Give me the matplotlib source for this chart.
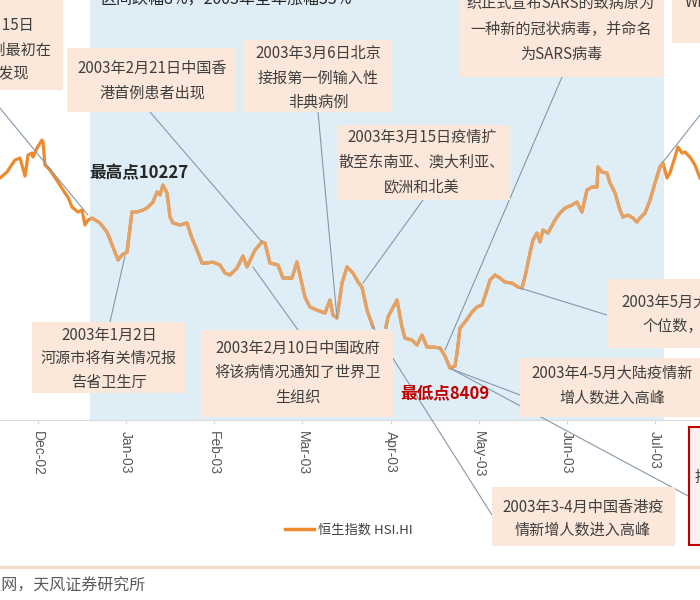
import numpy as np
import matplotlib
matplotlib.use("Agg")
import matplotlib.pyplot as plt
from matplotlib.patches import Rectangle
from matplotlib.lines import Line2D

plt.rcParams['font.family'] = ['Noto Sans CJK SC', 'DejaVu Sans']

# x = months since Dec-02 (the axis gives every month the same width)
month_pos = [-0.431, -0.352, -0.261, -0.204, -0.147, -0.113, -0.068, -0.057, -0.011, 0.045,
             0.057, 0.079, 0.136, 0.227, 0.306, 0.340, 0.386, 0.454, 0.499, 0.533,
             0.567, 0.613, 0.703, 0.783, 0.851, 0.908, 0.953, 1.010, 1.066, 1.123,
             1.191, 1.237, 1.305, 1.350, 1.384, 1.418, 1.464, 1.498, 1.532, 1.611,
             1.690, 1.747, 1.804, 1.861, 1.917, 1.985, 2.065, 2.122, 2.178, 2.258,
             2.326, 2.371, 2.462, 2.541, 2.575, 2.632, 2.723, 2.780, 2.882, 2.938,
             3.029, 3.086, 3.165, 3.256, 3.313, 3.347, 3.392, 3.449, 3.506, 3.574,
             3.631, 3.676, 3.733, 3.801, 3.880, 3.948, 3.971, 4.073, 4.130, 4.164,
             4.243, 4.300, 4.357, 4.413, 4.481, 4.561, 4.618, 4.674, 4.731, 4.754,
             4.788, 4.845, 4.924, 4.981, 5.037, 5.094, 5.128, 5.185, 5.242, 5.298,
             5.378, 5.446, 5.491, 5.525, 5.582, 5.616, 5.661, 5.696, 5.730, 5.786,
             5.866, 5.922, 5.979, 6.058, 6.115, 6.172, 6.229, 6.285, 6.342, 6.354,
             6.399, 6.456, 6.490, 6.547, 6.603, 6.637, 6.694, 6.751, 6.796, 6.830,
             6.887, 6.944, 7.000, 7.057, 7.091, 7.136, 7.170, 7.227, 7.261, 7.307,
             7.341, 7.397, 7.454, 7.511]
hsi = [10297, 10356, 10475, 10495, 10316, 10525, 10545, 10505, 10595, 10674,
       10654, 10426, 10376, 10257, 10148, 10108, 10008, 9959, 9979, 9830,
       9879, 9899, 9850, 9760, 9611, 9482, 9532, 9561, 9959, 9959,
       9979, 9998, 10058, 10158, 10128, 10227, 10148, 9909, 9850, 9830,
       9850, 9700, 9581, 9452, 9452, 9462, 9432, 9353, 9333, 9402,
       9522, 9413, 9581, 9661, 9651, 9452, 9432, 9303, 9303, 9462,
       9114, 9015, 8985, 8955, 9085, 8936, 8906, 9253, 9413, 9353,
       9263, 9214, 8985, 8816, np.nan, 8816, 8916, 9085, 8816, 8707,
       8687, 8638, 8737, 8618, 8618, 8608, 8528, 8409, 8429, 8558,
       8806, 8866, 8965, 9015, 9035, 9184, 9283, 9333, 9303, 9263,
       9253, 9214, 9204, 9313, 9551, 9681, 9750, 9661, 9780, 9750,
       9879, 9949, 9998, 10028, 10058, 9959, 10177, 10207, 10207, 10406,
       10356, 10346, 10247, 10148, 9979, 9909, 9929, 9899, 9859, 9899,
       9949, 10078, 10247, 10406, 10446, 10297, 10346, 10505, 10605, 10545,
       10555, 10505, 10426, 10297]

month_labels = ['Dec-02', 'Jan-03', 'Feb-03', 'Mar-03', 'Apr-03', 'May-03', 'Jun-03', 'Jul-03']
sars_start, sars_end = 0.59, 7.10
high_label = '最高点10227'
low_label = '最低点8409'

W, H = 700, 600
ORANGE = '#ee8a2e'
BOX = '#fce8da'
TXT = '#3f3f3f'
LEAD = '#8498ab'
FS = 10.9


def fx(x):
    return x / W


def fy(y):
    return 1 - y / H


fig = plt.figure(figsize=(7, 6), dpi=100)
ax = fig.add_axes([0, fy(420), 1, 420 / H])
ax.set_xlim(-0.431, 7.511)
ax.set_ylim(7893, 12065)

span = ax.axvspan(sars_start, sars_end, color='#dfeef6', lw=0, zorder=1)
ax.plot(month_pos, hsi, color=ORANGE, lw=2.3, zorder=2, solid_joinstyle='round')
muted, = ax.plot(month_pos, hsi, color='#e3a266', lw=2.3, zorder=2.5, solid_joinstyle='round')
muted.set_clip_path(span)

for s in ['top', 'left', 'right']:
    ax.spines[s].set_visible(False)
ax.spines['bottom'].set_color('#d9d9d9')
ax.set_yticks([])
ax.set_xticks(range(len(month_labels)))
ax.set_xticklabels(month_labels, rotation=-90, fontsize=10, color='#595959',
                   family='Liberation Sans')
ax.tick_params(axis='x', length=3, color='#d9d9d9', pad=5)

# leader lines: (start on box in pixels) -> (point on the curve in data units)
leaders = [
    ((-10, 96), (0.567, 9929)),
    ((150, 112), (2.541, 9661)),
    ((318, 112), (3.392, 8906)),
    ((423, 200), (3.687, 9253)),
    ((562, 77), (4.618, 8588)),
    ((110, 322), (0.987, 9522)),
    ((298, 330), (2.439, 9412)),
    ((520, 395), (4.69, 8400)),
    ((692, 498), (4.69, 8400)),
    ((492, 515), (3.789, 8836)),
    ((607, 315), (5.469, 9204)),
    ((715, 96), (7.091, 10456)),
]
for (px, py), (m, v) in leaders:
    ax.annotate('', xy=(m, v), xycoords='data', xytext=(px, H - py),
                textcoords='figure pixels', annotation_clip=False,
                arrowprops=dict(arrowstyle='-', color=LEAD, lw=0.8, shrinkA=0, shrinkB=0),
                zorder=4)

# annotation boxes: rect (x0, y0, x1, y1), centre x, [(y, text), ...]
boxes = [
    ((-20, -10, 63, 90), None, []),
    ((67, 48, 235, 112), 152, [(68, '2003年2月21日中国香'), (93, '港首例患者出现')]),
    ((243, 40, 392, 112), 318, [(53, '2003年3月6日北京'), (78, '接报第一例输入性'), (102, '非典病例')]),
    ((338, 125, 510, 200), 422, [(137, '2003年3月15日疫情扩'), (162, '散至东南亚、澳大利亚、'), (187, '欧洲和北美')]),
    ((460, -20, 663, 77), 561, [(-22, '2003年4月16日世界卫生组'), (3, '织正式宣布SARS的致病原为'),
                                (29, '一种新的冠状病毒，并命名'), (54, '为SARS病毒')]),
    ((32, 322, 185, 393), 109, [(335, '2003年1月2日'), (358, '河源市将有关情况报'), (382, '告省卫生厅')]),
    ((202, 330, 393, 417), 298, [(348, '2003年2月10日中国政府'), (372, '将该病情况通知了世界卫'), (397, '生组织')]),
    ((520, 358, 720, 417), 612, [(373, '2003年4-5月大陆疫情新'), (398, '增人数进入高峰')]),
    ((607, 279, 720, 348), 718, [(302, '2003年5月大陆新增病例降至'), (326, '个位数，疫情得到控制')]),
    ((492, 487, 675, 546), 583, [(507, '2003年3-4月中国香港疫'), (530, '情新增人数进入高峰')]),
    ((672, -10, 720, 43), None, []),
]
for (x0, y0, x1, y1), cx, lines in boxes:
    fig.add_artist(Rectangle((fx(x0), fy(y1)), (x1 - x0) / W, (y1 - y0) / H,
                             transform=fig.transFigure, facecolor=BOX,
                             edgecolor='none', zorder=5))
    for y, s in lines:
        fig.text(fx(cx), fy(y), s, ha='center', va='center', fontsize=FS,
                 color=TXT, zorder=6)

# first box is cut at the left edge of the picture
for x, y, s in [(34, 25, '2002年11月15日'), (51, 50, '首例病例最初在'), (29, 73, '佛山发现')]:
    fig.text(fx(x), fy(y), s, ha='right', va='center', fontsize=FS, color=TXT, zorder=6)
fig.text(fx(685), fy(3), 'WHO宣布疫情结束', ha='left', va='center', fontsize=FS,
         color=TXT, zorder=6)

# red framed box on the right edge
fig.add_artist(Rectangle((fx(689), fy(545)), 40 / W, 118 / H, transform=fig.transFigure,
                         facecolor='#fdf0ee', edgecolor='#c00000', lw=1.5, zorder=5))
fig.text(fx(695), fy(477), '持续', ha='left', va='center', fontsize=FS, color=TXT, zorder=6)

fig.text(fx(139), fy(173), high_label, ha='center', va='center', fontsize=12,
         fontweight='bold', color='#262626', zorder=6)
fig.text(fx(445), fy(393), low_label, ha='center', va='center', fontsize=12,
         fontweight='bold', color='#c00000', zorder=6)

# title line cut at the top
fig.text(fx(100), fy(0), '区间跌幅8%，2003年全年涨幅35%', ha='left', va='center',
         fontsize=11.5, color='#262626', zorder=6)

leg_line = Line2D([], [], color=ORANGE, lw=2.5)
fig.legend(handles=[leg_line], labels=['恒生指数 HSI.HI'], loc='center',
           bbox_to_anchor=(fx(349), fy(530)), frameon=False, handlelength=2.2,
           handletextpad=0.3, fontsize=9.5, labelcolor='#404040')

fig.add_artist(Line2D([0, 1], [fy(567), fy(567)], transform=fig.transFigure,
                      color='#efdccb', lw=2.5))
fig.text(fx(146), fy(586), '资料来源：Wind，新浪网，天风证券研究所', ha='right', va='center',
         fontsize=11.5, color='#595959')

fig.savefig('out.png', dpi=100)
